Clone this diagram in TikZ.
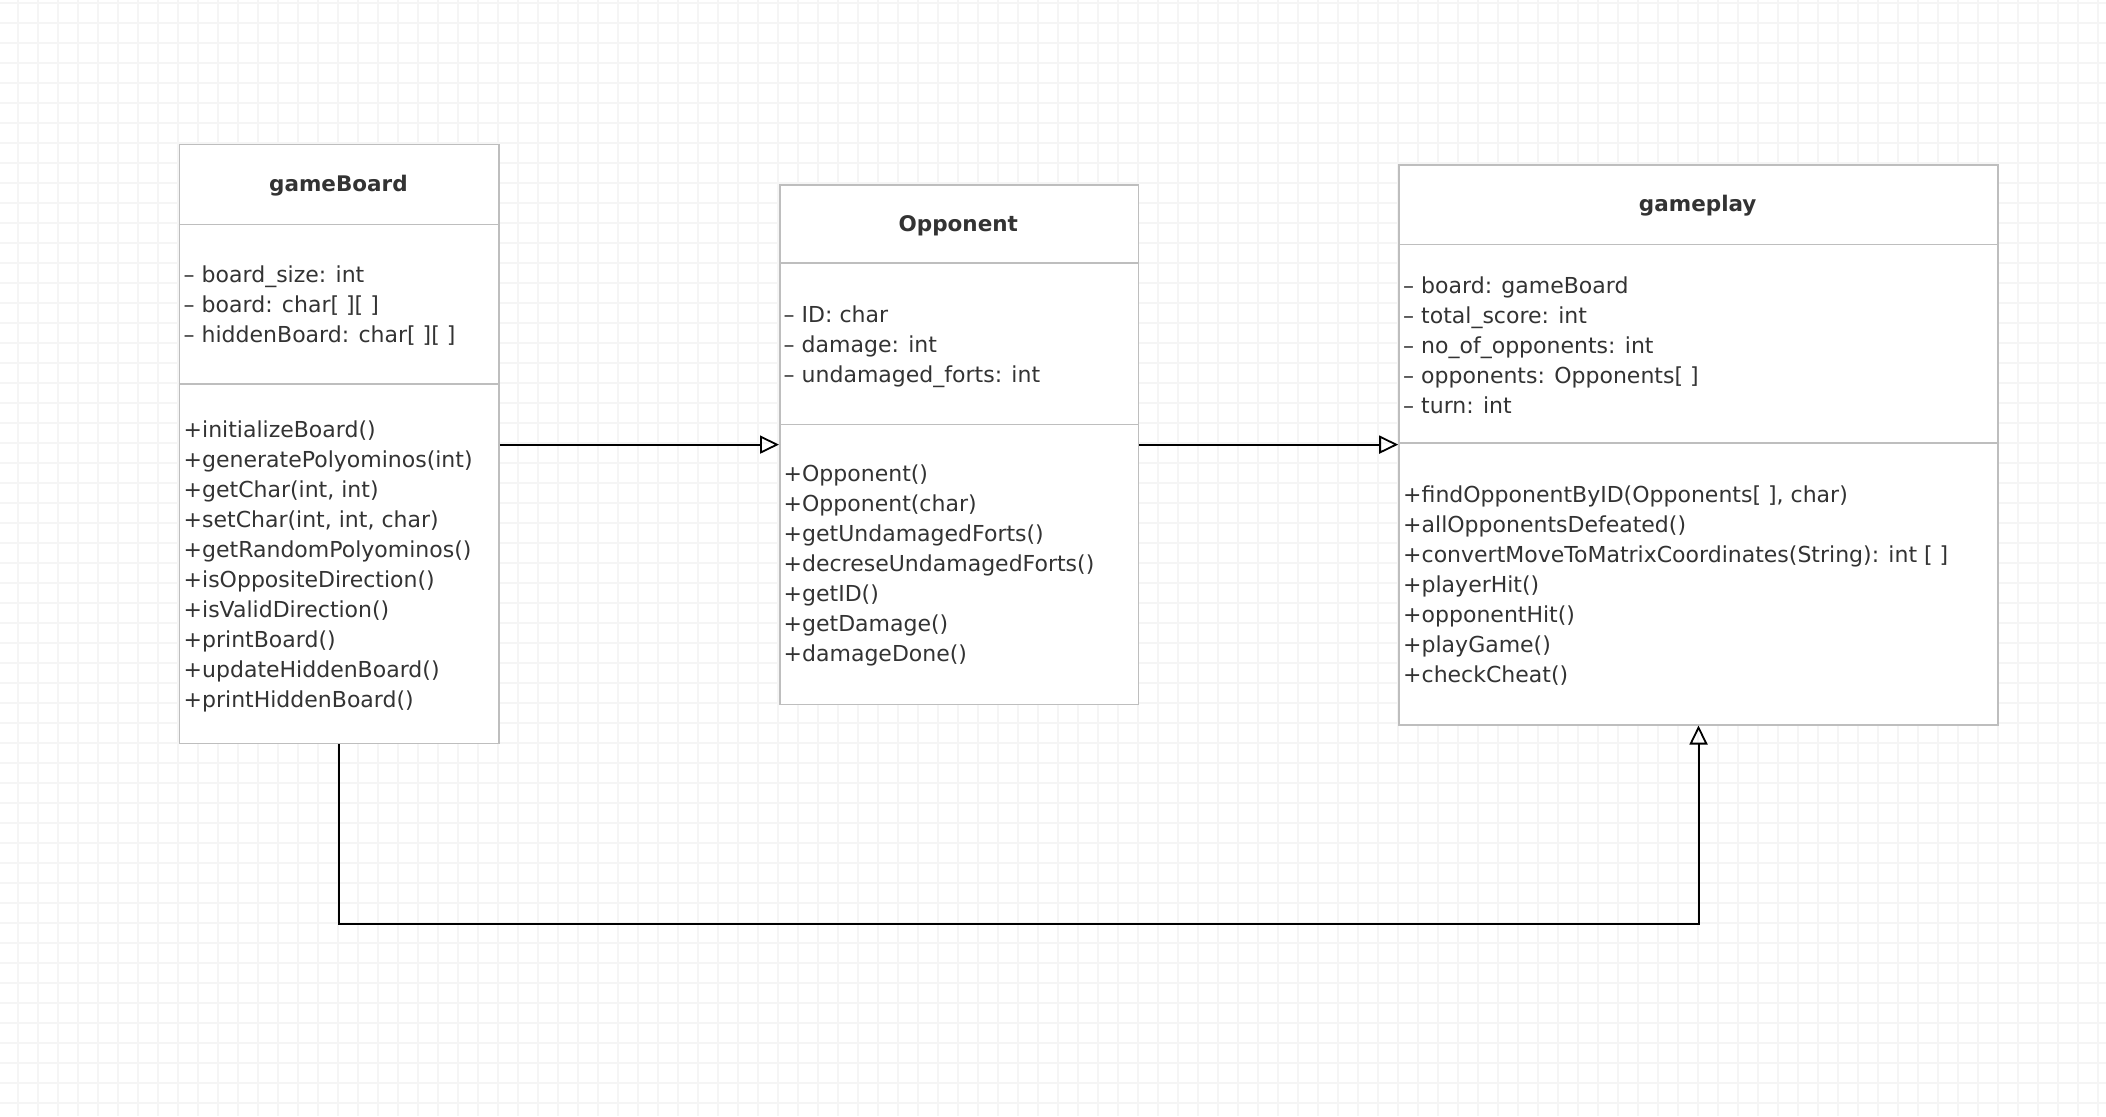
\documentclass[tikz,border=0pt]{standalone}
\usepackage{fontspec}
\setmainfont{DejaVu Sans}
\usetikzlibrary{arrows.meta}
\definecolor{gridc}{RGB}{245,245,245}
\definecolor{boxc}{RGB}{190,190,190}
\definecolor{txtc}{RGB}{51,51,51}
\tikzset{
  classbox/.style={draw=boxc, line width=1.6pt, fill=white, anchor=north west, inner sep=0pt},
  divider/.style={draw=boxc, line width=1.6pt},
  ctitle/.style={font=\fontsize{21.5}{30}\selectfont\bfseries, text=txtc, inner sep=0pt},
  members/.style={font=\fontsize{22}{30}\selectfont, text=txtc, align=left, anchor=west, inner sep=0pt},
  gen/.style={draw=black, line width=2pt, -{Triangle[open, length=19pt, width=18pt, line width=1.8pt]}}
}
\begin{document}
\begin{tikzpicture}[x=1pt,y=-1pt]
\useasboundingbox (0,0) rectangle (2106,1116);
\fill[white] (0,0) rectangle (2106,1116);
\foreach \x in {18,38,...,2106} \draw[gridc, line width=1.2pt] (\x,0) -- (\x,1116);
\foreach \y in {3,23,...,1116} \draw[gridc, line width=1.2pt] (0,\y) -- (2106,\y);

% gameBoard
\node[classbox, minimum width=319.7pt, minimum height=599pt] (gb) at (178.6,143.7) {};
\coordinate (gbh) at (0,224.3);
\coordinate (gbm) at (0,384.1);
\draw[divider] (gb.west |- gbh) -- (gb.east |- gbh);
\draw[divider] (gb.west |- gbm) -- (gb.east |- gbm);
\node[ctitle] (gbt) at (338.45,185.2) {gameBoard};
\node[members] (gba) at (183.5,305.4) {– board\_size: int\\– board: char[ ][ ]\\– hiddenBoard: char[ ][ ]};
\node[members] (gbo) at (183.5,566.6) {+initializeBoard()\\+generatePolyominos(int)\\+getChar(int, int)\\+setChar(int, int, char)\\+getRandomPolyominos()\\+isOppositeDirection()\\+isValidDirection()\\+printBoard()\\+updateHiddenBoard()\\+printHiddenBoard()};

% Opponent
\node[classbox, minimum width=358.6pt, minimum height=519.8pt] (op) at (779,184) {};
\coordinate (oph) at (0,263.2);
\coordinate (opm) at (0,424.4);
\draw[divider] (op.west |- oph) -- (op.east |- oph);
\draw[divider] (op.west |- opm) -- (op.east |- opm);
\node[ctitle] (opt) at (958.3,225.5) {Opponent};
\node[members] (opa) at (783.5,346.3) {– ID: char\\– damage: int\\– undamaged\_forts: int};
\node[members] (opo) at (783.5,565.3) {+Opponent()\\+Opponent(char)\\+getUndamagedForts()\\+decreseUndamagedForts()\\+getID()\\+getDamage()\\+damageDone()};

% gameplay
\node[classbox, minimum width=599pt, minimum height=560pt] (gp) at (1398.2,163.9) {};
\coordinate (gph) at (0,244.4);
\coordinate (gpm) at (0,443.2);
\draw[divider] (gp.west |- gph) -- (gp.east |- gph);
\draw[divider] (gp.west |- gpm) -- (gp.east |- gpm);
\node[ctitle] (gpt) at (1697.7,205.3) {gameplay};
\node[members] (gpa) at (1403,345.7) {– board: gameBoard\\– total\_score: int\\– no\_of\_opponents: int\\– opponents: Opponents[ ]\\– turn: int};
\node[members] (gpo) at (1403,585.4) {+findOpponentByID(Opponents[ ], char)\\+allOpponentsDefeated()\\+convertMoveToMatrixCoordinates(String): int [ ]\\+playerHit()\\+opponentHit()\\+playGame()\\+checkCheat()};

% connectors
\coordinate (ay) at (0,444.6);
\coordinate (by) at (0,924);
\draw[gen] (gb.east |- ay) -- (op.west |- ay);
\draw[gen] (op.east |- ay) -- (gp.west |- ay);
\draw[gen] (gb.south) -- (gb.south |- by) -| (gp.south);
\end{tikzpicture}
\end{document}
